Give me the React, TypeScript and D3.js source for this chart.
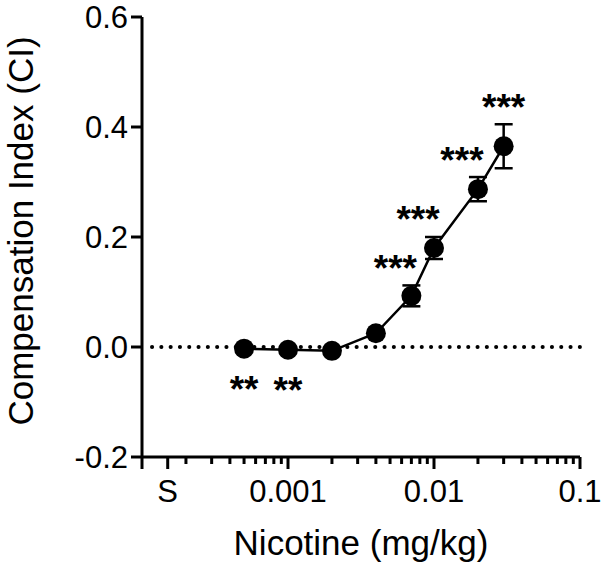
import React from 'react';
import * as d3 from 'd3';

// dose (mg/kg), mean CI, SEM, significance
const doses = [0.0005, 0.001, 0.002, 0.004, 0.007, 0.01, 0.02, 0.03];
const means = [-0.003, -0.005, -0.007, 0.025, 0.093, 0.18, 0.287, 0.365];
const sems = [0, 0, 0, 0, 0.019, 0.02, 0.022, 0.04];
const stars = ['**', '**', '', '', '***', '***', '***', '***'];

const yTicks = [-0.2, 0, 0.2, 0.4, 0.6];
const xMajor = [0.0001, 0.001, 0.01, 0.1];
const xMajorLabels = ['', '0.001', '0.01', '0.1'];
const salineDose = 0.00015;
const salineLabel = 'S';

const W = 604;
const H = 572;
const font = 'Arial, "Liberation Sans", Helvetica, sans-serif';

export default function App() {
  const x = d3.scaleLog().domain([0.0001, 0.1]).range([142, 580]);
  const y = d3.scaleLinear().domain([-0.2, 0.6]).range([457, 17]);

  const minor: number[] = [];
  [0.0001, 0.001, 0.01].forEach(d => {
    for (let k = 2; k <= 9; k++) minor.push(d * k);
  });

  const line = d3.line<number>()
    .x((d, i) => x(doses[i]))
    .y(d => y(d));

  const x0 = x.range()[0];
  const x1 = x.range()[1];
  const yBase = y(-0.2);
  const last = doses.length - 1;
  const starSize = 37;

  return (
    <svg width={W} height={H} style={{ position: 'absolute', left: 0, top: 0 }} fontFamily={font}>
      <rect width={W} height={H} fill="white" />

      {/* zero reference */}
      <line x1={x0 + 10} x2={x1} y1={y(0)} y2={y(0)} stroke="black" strokeWidth={4}
        strokeDasharray="0.1 9.2" strokeLinecap="round" />

      {/* y axis */}
      <line x1={x0} x2={x0} y1={y(0.6)} y2={yBase} stroke="black" strokeWidth={3} />
      {yTicks.map(t => (
        <g key={t}>
          <line x1={x0 - 11} x2={x0} y1={y(t)} y2={y(t)} stroke="black" strokeWidth={3} />
          <text x={x0 - 14} y={y(t)} dy="0.36em" textAnchor="end" fontSize={31}>
            {t.toFixed(1)}
          </text>
        </g>
      ))}

      {/* x axis */}
      <line x1={x0} x2={x1} y1={yBase} y2={yBase} stroke="black" strokeWidth={3} />
      {minor.map(t => (
        <line key={t} x1={x(t)} x2={x(t)} y1={yBase} y2={yBase + 7} stroke="black" strokeWidth={3} />
      ))}
      {xMajor.map((t, i) => (
        <g key={t}>
          <line x1={x(t)} x2={x(t)} y1={yBase} y2={yBase + 12} stroke="black" strokeWidth={3} />
          <text x={x(t)} y={502} textAnchor="middle" fontSize={31}>{xMajorLabels[i]}</text>
        </g>
      ))}
      <line x1={x(salineDose)} x2={x(salineDose)} y1={yBase} y2={yBase + 12} stroke="black" strokeWidth={3} />
      <text x={x(salineDose)} y={502} textAnchor="middle" fontSize={31}>{salineLabel}</text>

      {/* axis titles */}
      <text x={361} y={555} textAnchor="middle" fontSize={35}>Nicotine (mg/kg)</text>
      <text transform={`translate(33,231) rotate(-90)`} textAnchor="middle" fontSize={35}>
        Compensation Index (CI)
      </text>

      {/* series */}
      <path d={line(means) || ''} fill="none" stroke="black" strokeWidth={2.5} />
      {means.map((m, i) => sems[i] > 0 && (
        <g key={'e' + i} stroke="black" strokeWidth={2.5}>
          <line x1={x(doses[i])} x2={x(doses[i])} y1={y(m - sems[i])} y2={y(m + sems[i])} />
          <line x1={x(doses[i]) - 9} x2={x(doses[i]) + 9} y1={y(m + sems[i])} y2={y(m + sems[i])} />
          <line x1={x(doses[i]) - 9} x2={x(doses[i]) + 9} y1={y(m - sems[i])} y2={y(m - sems[i])} />
        </g>
      ))}
      {means.map((m, i) => (
        <circle key={'p' + i} cx={x(doses[i])} cy={y(m)} r={10} fill="black" />
      ))}

      {/* significance */}
      {stars.map((s, i) => {
        if (!s) return null;
        const below = s.length === 2;
        const cx = x(doses[i]) + (below || i === last ? 0 : -16);
        const cy = below ? y(means[i]) + 32 : y(means[i] + sems[i]) - 26;
        return (
          <text key={'s' + i} x={cx} y={cy + 0.58 * starSize} textAnchor="middle"
            fontSize={starSize} fontWeight="bold">
            {s}
          </text>
        );
      })}
    </svg>
  );
}
